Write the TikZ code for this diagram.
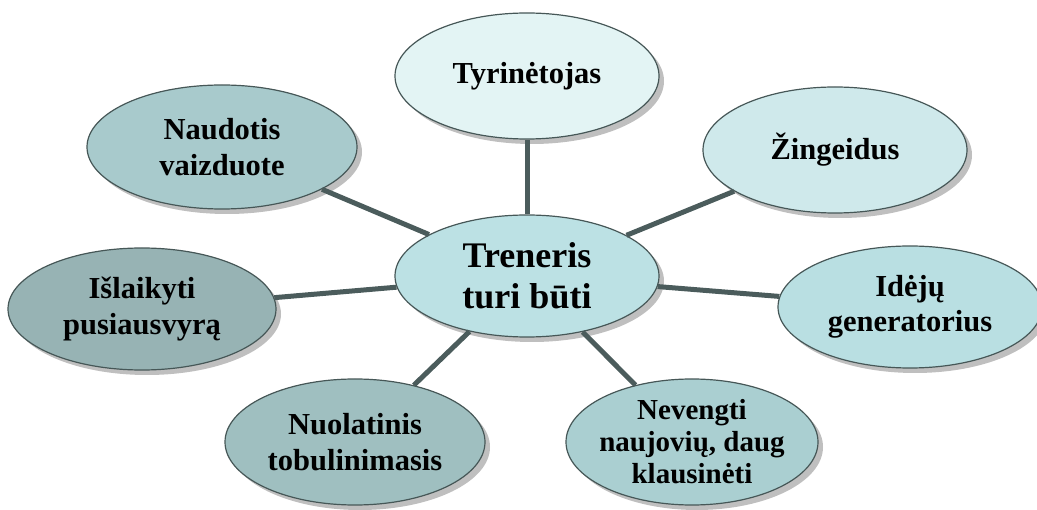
\documentclass[tikz,border=0pt]{standalone}
\usepackage{fontspec}
\setmainfont{Liberation Serif}
\usetikzlibrary{shapes.geometric, shadows}
\definecolor{rim}{HTML}{465757}
\definecolor{spoke}{HTML}{4B5C5C}
\definecolor{fillA}{HTML}{BCE1E4}
\definecolor{fillB}{HTML}{E3F4F4}
\definecolor{fillC}{HTML}{CFE9EB}
\definecolor{fillD}{HTML}{B9DFE2}
\definecolor{fillE}{HTML}{AACFD1}
\definecolor{fillF}{HTML}{9FBFC0}
\definecolor{fillG}{HTML}{97B3B4}
\definecolor{fillH}{HTML}{A8CACC}

\begin{document}
\begin{tikzpicture}[x=1pt, y=-1pt, main/.style = {draw=rim, line width=1.2pt, ellipse, inner sep=-12pt, minimum width=264pt, minimum height=126pt, align=center, font=\bfseries\fontsize{30.5}{35.5}\selectfont, drop shadow={shadow xshift=5pt, shadow yshift=-5pt, fill=black!25, opacity=1}}]
      \useasboundingbox (0,0) rectangle (1037,510);
      \node[main, fill=fillA, minimum height=122pt, font=\bfseries\fontsize{36}{41}\selectfont] (1) at (527,276) {Treneris\\turi būti};
      \node[main, fill=fillB] (2) at (527,76)  {Tyrinėtojas};
      \node[main, fill=fillC] (3) at (835,150) {Žingeidus};
      \node[main, fill=fillD, minimum height=122pt] (4) at (910,307) {Idėjų\\generatorius};
      \node[main, fill=fillE, minimum width=252pt, font=\bfseries\fontsize{29}{32}\selectfont] (5) at (692,442) {Nevengti\\naujovių, daug\\klausinėti};
      \node[main, fill=fillF, minimum width=260pt] (6) at (355,442) {Nuolatinis\\tobulinimasis};
      \node[main, fill=fillG, minimum width=268pt, minimum height=122pt] (7) at (142,309) {Išlaikyti\\pusiausvyrą};
      \node[main, fill=fillH, minimum width=270pt, minimum height=124pt] (8) at (222,147) {Naudotis\\vaizduote};

      \path[-, draw=spoke, line width=5pt]
      (1) edge (2)
      (1) edge (3)
      (1) edge (4)
      (1) edge (5)
      (1) edge (6)
      (1) edge (7)
      (1) edge (8);
    \end{tikzpicture}
\end{document}
